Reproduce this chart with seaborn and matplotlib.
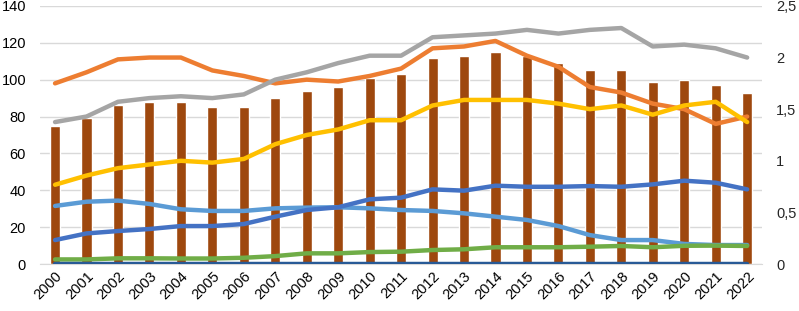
import numpy as np
import pandas as pd
import matplotlib
matplotlib.use("Agg")
import matplotlib.pyplot as plt
import seaborn as sns
from matplotlib.ticker import FuncFormatter

years = [str(y) for y in range(2000, 2023)]

# bars (left axis)
bars = [75, 79, 86, 88, 88, 85, 85, 90, 94, 96, 101, 103, 112, 113, 115,
        113, 109, 105, 105, 99, 100, 97, 93]

# lines (left axis units)
orange = [98, 104, 111, 112, 112, 105, 102, 98, 100, 99, 102, 106, 117, 118,
          121, 113, 107, 96, 93, 87, 84, 76, 80]
gray = [77, 80, 88, 90, 91, 90, 92, 100, 104, 109, 113, 113, 123, 124, 125,
        127, 125, 127, 128, 118, 119, 117, 112]
yellow = [43, 48, 52, 54, 56, 55, 57, 65, 70, 73, 78, 78, 86, 89, 89, 89,
          87, 84, 86, 81, 86, 88, 77]
light_blue = [31.5, 33.8, 34.4, 32.6, 29.7, 28.8, 28.8, 30.2, 30.6, 30.8, 30.2,
              29.3, 28.8, 27.5, 25.7, 23.9, 20.6, 15.7, 13, 13, 10.9, 10.3, 10.3]
blue = [13, 16.6, 17.9, 19, 20.6, 20.6, 21.7, 25.7, 29.3, 30.8, 35.1, 36,
        40.5, 39.8, 42.5, 41.9, 41.9, 42.3, 41.9, 43.2, 45.2, 44.1, 40.5]
green = [2.5, 2.5, 3.1, 3.1, 3, 3, 3.4, 4.3, 5.8, 5.8, 6.5, 6.7, 7.6, 8,
         9.1, 9.1, 9.1, 9.4, 9.8, 9.1, 9.9, 10, 9.8]
dark_blue = [0] * 23

series = {"orange": orange, "gray": gray, "yellow": yellow,
          "light_blue": light_blue, "blue": blue, "green": green,
          "dark_blue": dark_blue}
colors = {"orange": "#ED7D31", "gray": "#A5A5A5", "yellow": "#FFC000",
          "light_blue": "#5B9BD5", "blue": "#4472C4", "green": "#70AD47",
          "dark_blue": "#285A96"}

sns.set_style("white")
plt.rcParams["font.family"] = ["Liberation Sans", "DejaVu Sans"]

fig = plt.figure(figsize=(7.99, 3.11), dpi=100)
ax = fig.add_axes([0.050, 0.151, 0.904, 0.830])

bar_df = pd.DataFrame({"year": years, "value": bars})
sns.barplot(data=bar_df, x="year", y="value", color="#9E480E", saturation=1,
            width=0.32, ax=ax, zorder=2)

# lines drawn over the bars, on the same category positions
pos = np.arange(len(years))
line_df = pd.concat([pd.DataFrame({"pos": pos, "value": v, "series": k})
                     for k, v in series.items()])
sns.lineplot(data=line_df, x="pos", y="value", hue="series", palette=colors,
             linewidth=3.2, legend=False, ax=ax, zorder=3)
for l in ax.lines:
    l.set_solid_capstyle("round")

ax.set_xlim(-0.48, 22.48)
ax.set_ylim(0, 140)
ax.set_yticks(range(0, 141, 20))
ax.yaxis.grid(True, color="#D9D9D9", linewidth=1)
ax.set_axisbelow(True)
ax.set_xlabel("")
ax.set_ylabel("")
for s in ["top", "right", "left"]:
    ax.spines[s].set_visible(False)
ax.spines["bottom"].set_color("#D9D9D9")
ax.tick_params(axis="both", length=0, labelsize=10.5, colors="#000000")
ax.tick_params(axis="y", pad=10)
ax.set_xticks(pos)
ax.set_xticklabels(years, rotation=45, ha="right", rotation_mode="anchor")

ax2 = ax.twinx()
ax2.set_ylim(0, 2.5)
ax2.set_yticks([0, 0.5, 1, 1.5, 2, 2.5])
ax2.yaxis.set_major_formatter(FuncFormatter(lambda v, p: ("%g" % v).replace(".", ",")))
ax2.tick_params(axis="y", length=0, labelsize=10.5, pad=10)
for s in ["top", "right", "left", "bottom"]:
    ax2.spines[s].set_visible(False)

fig.savefig("out.png", dpi=100)
